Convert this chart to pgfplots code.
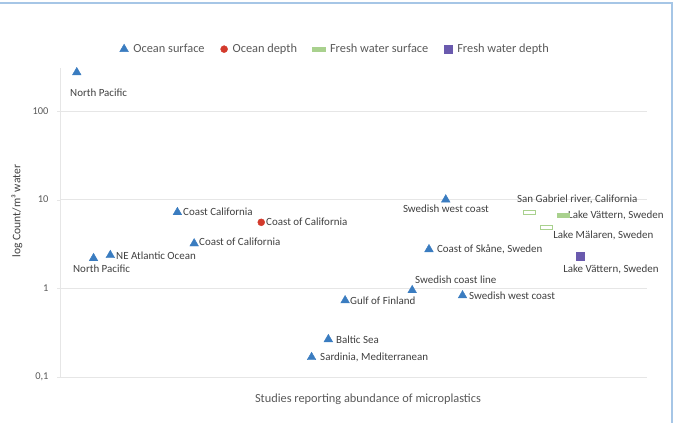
\documentclass[border=0pt]{standalone}
\usepackage{fontspec}
\setmainfont{Carlito}
\usepackage{pgfplots}
\pgfplotsset{compat=1.18}
\definecolor{oblue}{HTML}{3A7CC0}
\definecolor{ored}{HTML}{D33A2C}
\definecolor{fgreen}{HTML}{A9D18E}
\definecolor{fpurple}{HTML}{6A5AAE}
\definecolor{gridgray}{HTML}{E6E6E6}
\definecolor{ticktext}{HTML}{595959}
\definecolor{lbltext}{HTML}{404040}
\definecolor{frame}{HTML}{A6C6E6}
\pgfdeclareplotmark{dashbox}{%
  \pgfpathrectangle{\pgfpoint{-6bp}{-2bp}}{\pgfpoint{12bp}{4bp}}%
  \pgfusepathqfillstroke}
\begin{document}
\begin{tikzpicture}
\useasboundingbox (-60bp,-46bp) rectangle (620bp,377bp);
\draw[frame, line width=1.6bp] (-60bp,374bp) -- (612bp,374bp) -- (612bp,-46bp);
\begin{axis}[
  at={(0,0)}, anchor=south west,
  scale only axis, width=587bp, height=309bp,
  clip=false,
  xmin=0, xmax=35,
  ymode=log, ymin=0.1, ymax=305,
  ytick={0.1,1,10,100}, yticklabels={{0,1},1,10,100},
  yminorticks=false,
  xtick=\empty,
  axis x line=bottom, axis y line=left,
  axis line style={-},
  x axis line style={draw=none},
  y axis line style={draw=gridgray, line width=0.8bp},
  ymajorgrids, major grid style={draw=gridgray, line width=0.8bp},
  tick align=outside, major tick length=3bp,
  ytick style={draw=gridgray},
  /pgf/number format/assume math mode=true,
  tick label style={font=\fontsize{10.5}{12}\selectfont, text=ticktext},
  yticklabel style={xshift=-5bp},
  ylabel={log Count/m³ water},
  xlabel={Studies reporting abundance of microplastics},
  every axis y label/.style={at={(axis description cs:-0.0733,0.537)}, rotate=90, anchor=center,
     font=\fontsize{11.6}{13}\selectfont, text=lbltext},
  every axis x label/.style={at={(axis description cs:0.5247,-0.0712)}, anchor=center,
     font=\fontsize{12.4}{14}\selectfont, text=ticktext},
  legend columns=4,
  legend style={at={(0.469,1.061)}, anchor=center, draw=none, fill=none,
    font=\fontsize{12.4}{14}\selectfont, text=ticktext,
    /tikz/every odd column/.append style={column sep=3bp},
    /tikz/every even column/.append style={column sep=14bp}},
  legend cell align=left,
]
\addplot[only marks, mark=triangle*, mark size=5bp, color=oblue] coordinates {
 (1,272) (2,2.18) (3,2.36) (7,7.2) (8,3.2) (15,0.167) (16,0.266) (17,0.73)
 (21,0.95) (22,2.75) (23,10) (24,0.83)};
\addlegendentry{Ocean surface}
\addplot[only marks, mark=*, mark size=3.5bp, color=ored] coordinates {(12,5.55)};
\addlegendentry{Ocean depth}
\addplot[only marks, mark=dashbox, draw=fgreen, fill=white, line width=1.2bp,
  legend image post style={fill=fgreen}] coordinates {(28,7.2) (29,4.9)};
\addlegendentry{Fresh water surface}
\addplot[only marks, mark=square*, mark size=4bp, color=fpurple] coordinates {(31,2.3)};
\addlegendentry{Fresh water depth}
\addplot[only marks, mark=dashbox, draw=fgreen, fill=fgreen, line width=1.2bp, forget plot] coordinates {(30,6.6)};
\begin{scope}[every node/.style={anchor=west, inner sep=0pt, font=\fontsize{11}{13}\selectfont, text=lbltext}]
\node at (axis description cs:0.017,0.919) {North Pacific};
\node at (axis description cs:0.0221,0.350) {North Pacific};
\node at (axis description cs:0.0954,0.392) {NE Atlantic Ocean};
\node at (axis description cs:0.2095,0.534) {Coast California};
\node at (axis description cs:0.2368,0.437) {Coast of California};
\node at (axis description cs:0.351,0.502) {Coast of California};
\node at (axis description cs:0.584,0.544) {Swedish west coast};
\node at (axis description cs:0.7785,0.576) {San Gabriel river, California};
\node at (axis description cs:0.8654,0.524) {Lake Vättern, Sweden};
\node at (axis description cs:0.840,0.4595) {Lake Mälaren, Sweden};
\node at (axis description cs:0.642,0.414) {Coast of Skåne, Sweden};
\node at (axis description cs:0.857,0.3495) {Lake Vättern, Sweden};
\node at (axis description cs:0.6048,0.314) {Swedish coast line};
\node at (axis description cs:0.6968,0.262) {Swedish west coast};
\node at (axis description cs:0.494,0.246) {Gulf of Finland};
\node at (axis description cs:0.470,0.1197) {Baltic Sea};
\node at (axis description cs:0.443,0.0647) {Sardinia, Mediterranean};
\end{scope}
\end{axis}
\end{tikzpicture}
\end{document}
